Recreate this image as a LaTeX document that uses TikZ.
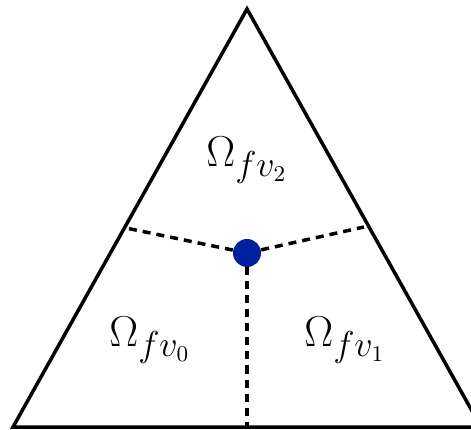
\documentclass[tikz,border=0pt]{standalone}
\usetikzlibrary{positioning}
\definecolor{dotblue}{HTML}{00209E}

\begin{document}
\begin{tikzpicture}[x=0.4pt, y=-0.4pt,
      edge/.style={draw=black, line width=1.4pt, line join=miter},
      split/.style={draw=black, line width=1.4pt, dash pattern=on 3.2pt off 2.4pt},
      region/.style={inner sep=0pt, font=\fontsize{19}{23}\selectfont}]
  \useasboundingbox (0,0) rectangle (471,430);
  % corners of the element
  \coordinate (v0) at (13,427);
  \coordinate (v1) at (481,427);
  \coordinate (v2) at (247,9);
  % edge points
  \coordinate (m01) at (247,427);
  \coordinate (m02) at (126,228);
  \coordinate (m12) at (364,227);
  \node[circle, fill=dotblue, inner sep=0pt, minimum size=11.2pt] (c) at (247,253) {};
  \draw[edge] (v0) -- (v1) -- (v2) -- cycle;
  \draw[split] (c) -- (m01);
  \draw[split] (c) -- (m02);
  \draw[split] (c) -- (m12);
  \node[region] (r2) at (247,160) {$\Omega_{fv_2}$};
  \node[region] (r0) at (150,340) {$\Omega_{fv_0}$};
  \node[region] (r1) at (345,340) {$\Omega_{fv_1}$};
\end{tikzpicture}
\end{document}
